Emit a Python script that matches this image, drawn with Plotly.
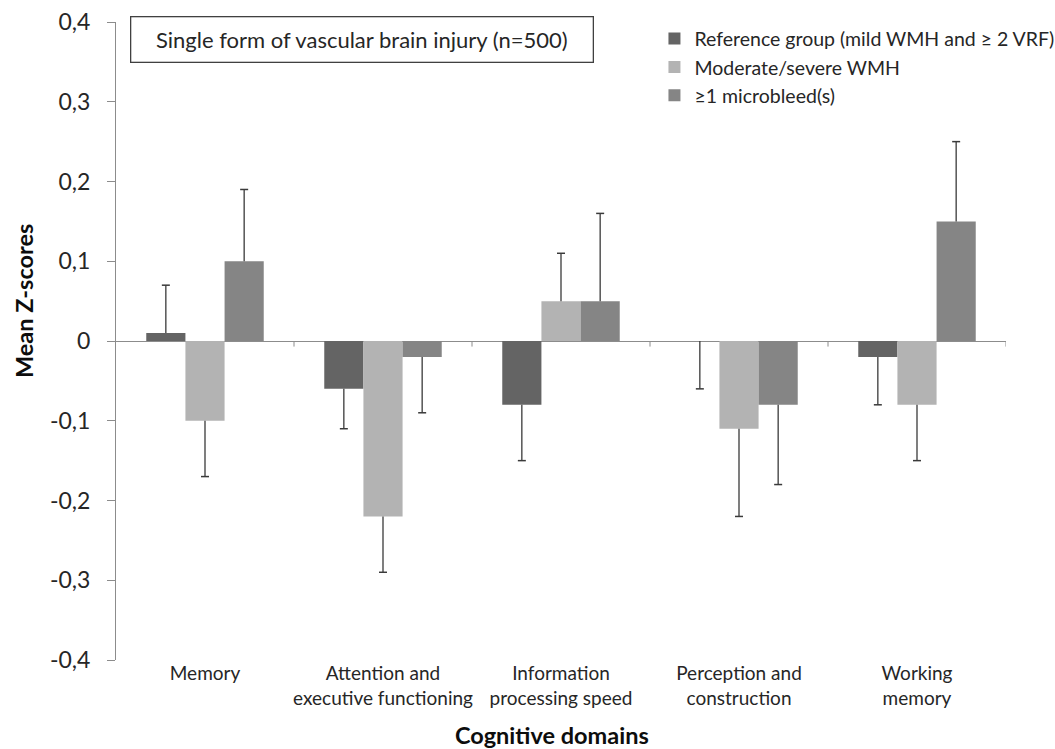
import plotly.graph_objects as go

# Cognitive domains (x categories) and their axis labels
domains = ["Memory", "Attention and executive functioning", "Information processing speed",
           "Perception and construction", "Working memory"]
domain_labels = ["Memory", "Attention and<br>executive functioning", "Information<br>processing speed",
                 "Perception and<br>construction", "Working<br>memory"]

# Group names
groups = ["Reference group (mild WMH and ≥ 2 VRF)", "Moderate/severe WMH", "≥1 microbleed(s)"]

# Mean Z-scores per group
ref_means = [0.01, -0.06, -0.08, 0.00, -0.02]
wmh_means = [-0.10, -0.22, 0.05, -0.11, -0.08]
mb_means = [0.10, -0.02, 0.05, -0.08, 0.15]

# Error (one-sided, pointing away from zero)
ref_err = [0.06, 0.05, 0.07, 0.06, 0.06]
wmh_err = [0.07, 0.07, 0.06, 0.11, 0.07]
mb_err = [0.09, 0.07, 0.11, 0.10, 0.10]

# Y tick values and their comma-decimal labels
y_ticks = [-0.4, -0.3, -0.2, -0.1, 0, 0.1, 0.2, 0.3, 0.4]
y_ticktext = ["-0,4", "-0,3", "-0,2", "-0,1", "0", "0,1", "0,2", "0,3", "0,4"]

colors = ["#646464", "#b3b3b3", "#858585"]
FONT = "Lato, 'Open Sans', sans-serif"
AXIS_GREY = "#8c8c8c"
ERR_COLOR = "#3a3a3a"
BARGAP = 0.34


def one_sided(means, errs):
    up = [e if m > 0 else 0 for m, e in zip(means, errs)]
    down = [e if m <= 0 else 0 for m, e in zip(means, errs)]
    tips = [m + e if m > 0 else m - e for m, e in zip(means, errs)]
    return up, down, tips


fig = go.Figure()
all_means = [ref_means, wmh_means, mb_means]
all_errs = [ref_err, wmh_err, mb_err]

# bars with whiskers (caps added separately, only at the far end)
for i, (name, means, errs) in enumerate(zip(groups, all_means, all_errs)):
    up, down, _ = one_sided(means, errs)
    fig.add_trace(go.Bar(
        x=domains, y=means, name=name, legendgroup=f"g{i}",
        marker=dict(color=colors[i], line=dict(width=0)),
        error_y=dict(type="data", symmetric=False, array=up, arrayminus=down,
                     color=ERR_COLOR, thickness=1.3, width=0),
    ))

shapes = []

# whisker caps: centred on each grouped bar, 8 px wide
n_groups = len(groups)
slot = (1 - BARGAP) / n_groups
for j, (means, errs) in enumerate(zip(all_means, all_errs)):
    _, _, tips = one_sided(means, errs)
    for k, tip in enumerate(tips):
        centre = k + (j - (n_groups - 1) / 2) * slot
        shapes.append(dict(type="line", xref="x", yref="y", xsizemode="pixel",
                           xanchor=centre, x0=-4, x1=4, y0=tip, y1=tip,
                           line=dict(color=ERR_COLOR, width=1.5)))

# small tick marks on the zero line at category boundaries
for k in range(len(domains)):
    shapes.append(dict(type="line", xref="x", yref="y", x0=k + 0.5, x1=k + 0.5,
                       y0=0, y1=-0.007, line=dict(color=AXIS_GREY, width=1)))

fig.update_layout(
    width=1055, height=749,
    margin=dict(l=116, r=49, t=22, b=89, autoexpand=False),
    paper_bgcolor="white", plot_bgcolor="white",
    barmode="group", bargap=BARGAP, bargroupgap=0,
    font=dict(family=FONT, color="#262626"),
    shapes=shapes,
    showlegend=True,
    legend=dict(x=0.605, y=1.004, xanchor="left", yanchor="top",
                font=dict(size=19.5, family=FONT, color="#262626"),
                bgcolor="rgba(0,0,0,0)", tracegroupgap=0, itemwidth=30),
    xaxis=dict(
        range=[-0.5, len(domains) - 0.5],
        tickmode="array", tickvals=domains, ticktext=domain_labels,
        ticks="", showline=False, showgrid=False, zeroline=False,
        tickfont=dict(size=19, family=FONT, color="#262626"),
    ),
    yaxis=dict(
        range=[-0.4, 0.4], tickmode="array", tickvals=y_ticks, ticktext=y_ticktext,
        ticks="outside", ticklen=8, tickcolor=AXIS_GREY, tickwidth=1,
        showline=True, linecolor=AXIS_GREY, linewidth=1,
        showgrid=False, zeroline=True, zerolinecolor=AXIS_GREY, zerolinewidth=1,
        tickfont=dict(size=23, family=FONT, color="#262626"),
        ticklabelstandoff=12,
    ),
    annotations=[
        dict(text="Single form of vascular brain injury (n=500)", xref="paper", yref="paper",
             x=(130 - 116) / 891, y=(660 - 16) / 638, xanchor="left", yanchor="top",
             showarrow=False, width=455, height=38, borderpad=3, align="center",
             bordercolor="#404040", borderwidth=1.3, bgcolor="white",
             font=dict(size=22, family=FONT, color="#262626")),
        dict(text="<b>Mean Z-scores</b>", xref="paper", yref="paper",
             x=(24 - 116) / 891, y=(660 - 301) / 638, xanchor="center", yanchor="middle",
             textangle=-90, showarrow=False,
             font=dict(size=23.5, family=FONT, color="#0d0d0d")),
        dict(text="<b>Cognitive domains</b>", xref="paper", yref="paper",
             x=(552 - 116) / 891, y=(660 - 735) / 638, xanchor="center", yanchor="middle",
             showarrow=False,
             font=dict(size=23.5, family=FONT, color="#0d0d0d")),
    ],
)

fig.write_html("out.html")
